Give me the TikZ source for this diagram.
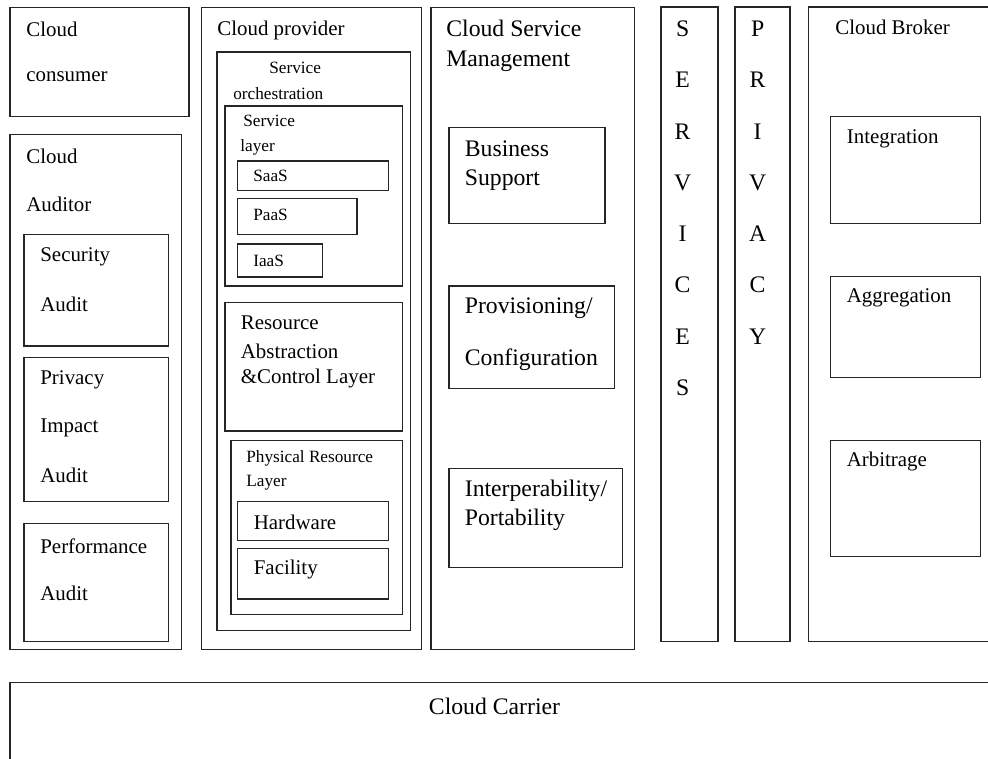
\documentclass[tikz,border=0pt]{standalone}
\usepackage{fontspec}
\setmainfont{Liberation Serif}
\usetikzlibrary{fit}

\begin{document}
\begin{tikzpicture}[
    x=0.02cm, y=-0.02cm,
    box/.style={draw=black!85, line width=0.8pt, inner sep=0pt},
    txt/.style={anchor=west, inner sep=0pt, font=\fontsize{11.9}{14}\selectfont},
    smalltxt/.style={txt, font=\fontsize{9.8}{12}\selectfont},
    bigtxt/.style={txt, font=\fontsize{13.5}{16}\selectfont},
    letter/.style={bigtxt, anchor=center}
]
\clip (0,0) rectangle (988,759);

% consumer and auditor column
\node[box, fit={(10,7.5) (189,116.5)}] (consumer) {};
\node[txt] (consumer-a) at (26,29) {Cloud};
\node[txt] (consumer-b) at (26,76.5) {consumer};

\node[box, fit={(10,134.5) (181.5,649.5)}] (auditor) {};
\node[txt] (auditor-a) at (26,156) {Cloud};
\node[txt] (auditor-b) at (26,204) {Auditor};

\node[box, fit={(24,234.5) (168.5,346)}] (secaudit) {};
\node[txt] (secaudit-a) at (40,257) {Security};
\node[txt] (secaudit-b) at (40,304) {Audit};

\node[box, fit={(24,357.5) (168.5,501.5)}] (privaudit) {};
\node[txt] (privaudit-a) at (40,380) {Privacy};
\node[txt] (privaudit-b) at (40,428) {Impact};
\node[txt] (privaudit-c) at (40,475) {Audit};

\node[box, fit={(24,523.5) (168.5,641.5)}] (perfaudit) {};
\node[txt] (perfaudit-a) at (40,546) {Performance};
\node[txt] (perfaudit-b) at (40,593) {Audit};

% provider stack
\node[box, fit={(201.5,7.5) (421.5,649.5)}] (provider) {};
\node[txt] (provider-a) at (217,30) {Cloud provider};

\node[box, fit={(217,52) (410.5,630.5)}] (orch) {};
\node[smalltxt] (orch-a) at (269,68) {Service};
\node[smalltxt] (orch-b) at (233,93.5) {orchestration};

\node[box, fit={(225,106) (402.5,286)}] (svclayer) {};
\node[smalltxt] (svclayer-a) at (243,121) {Service};
\node[smalltxt] (svclayer-b) at (240,147.5) {layer};

\node[box, fit={(237.5,161) (388.5,190.5)}] (saas) {};
\node[smalltxt] (saas-a) at (253,176) {SaaS};
\node[box, fit={(237.5,198.5) (357,234.5)}] (paas) {};
\node[smalltxt] (paas-a) at (253,215) {PaaS};
\node[box, fit={(237.5,244) (322.5,277)}] (iaas) {};
\node[smalltxt] (iaas-a) at (253,260.5) {IaaS};

\node[box, fit={(225,302.5) (402.5,431)}] (rescontrol) {};
\node[txt] (rescontrol-a) at (240.5,323) {Resource};
\node[txt] (rescontrol-b) at (240.5,351) {Abstraction};
\node[txt] (rescontrol-c) at (240.5,379) {\&Control Layer};

\node[box, fit={(231,440.5) (402.5,614.5)}] (physical) {};
\node[smalltxt] (physical-a) at (246,458) {Physical Resource};
\node[smalltxt] (physical-b) at (246,483) {Layer};

\node[box, fit={(237.5,501.5) (388.5,540.5)}] (hardware) {};
\node[txt] (hardware-a) at (253.5,522.5) {Hardware};
\node[box, fit={(237.5,548.5) (388.5,599)}] (facility) {};
\node[txt] (facility-a) at (253.5,570) {Facility};

% service management
\node[box, fit={(431,7.5) (634.5,649.5)}] (csm) {};
\node[bigtxt] (csm-a) at (446,28) {Cloud Service};
\node[bigtxt] (csm-b) at (446,61) {Management};

\node[box, fit={(449,127.5) (605,223.5)}] (business) {};
\node[bigtxt] (business-a) at (464.5,148.5) {Business};
\node[bigtxt] (business-b) at (464.5,180) {Support};

\node[box, fit={(449,286) (614.5,388.5)}] (provisioning) {};
\node[bigtxt] (provisioning-a) at (464.5,308) {Provisioning/};
\node[bigtxt] (provisioning-b) at (464.5,359.5) {Configuration};

\node[box, fit={(449,468.5) (622.5,567.5)}] (interop) {};
\node[bigtxt] (interop-a) at (464.5,491) {Interperability/};
\node[bigtxt] (interop-b) at (464.5,520) {Portability};

% vertical bars
\node[box, fit={(661,7) (718,641.5)}] (services) {};
\foreach \l [count=\i] in {S,E,R,V,I,C,E,S}
  \node[letter] (services-\i) at (682.6,{28.7+51.3*(\i-1)}) {\l};

\node[box, fit={(735,7) (790,641.5)}] (privacy) {};
\foreach \l [count=\i] in {P,R,I,V,A,C,Y}
  \node[letter] (privacy-\i) at (757.6,{28.7+51.3*(\i-1)}) {\l};

% broker
\node[box, fit={(808.5,7) (1000,641.5)}] (broker) {};
\node[txt] (broker-a) at (835,27.5) {Cloud Broker};

\node[box, fit={(830.5,116.5) (980.5,223.5)}] (integration) {};
\node[txt] (integration-a) at (846.5,138.5) {Integration};
\node[box, fit={(830.5,276.5) (980.5,377.5)}] (aggregation) {};
\node[txt] (aggregation-a) at (846.5,298) {Aggregation};
\node[box, fit={(830.5,440.5) (980.5,556.5)}] (arbitrage) {};
\node[txt] (arbitrage-a) at (846.5,462) {Arbitrage};

% carrier along the bottom
\node[box, fit={(10,682.5) (1000,780)}] (carrier) {};
\node[bigtxt, anchor=center] (carrier-a) at (494.5,706) {Cloud Carrier};
\end{tikzpicture}
\end{document}
